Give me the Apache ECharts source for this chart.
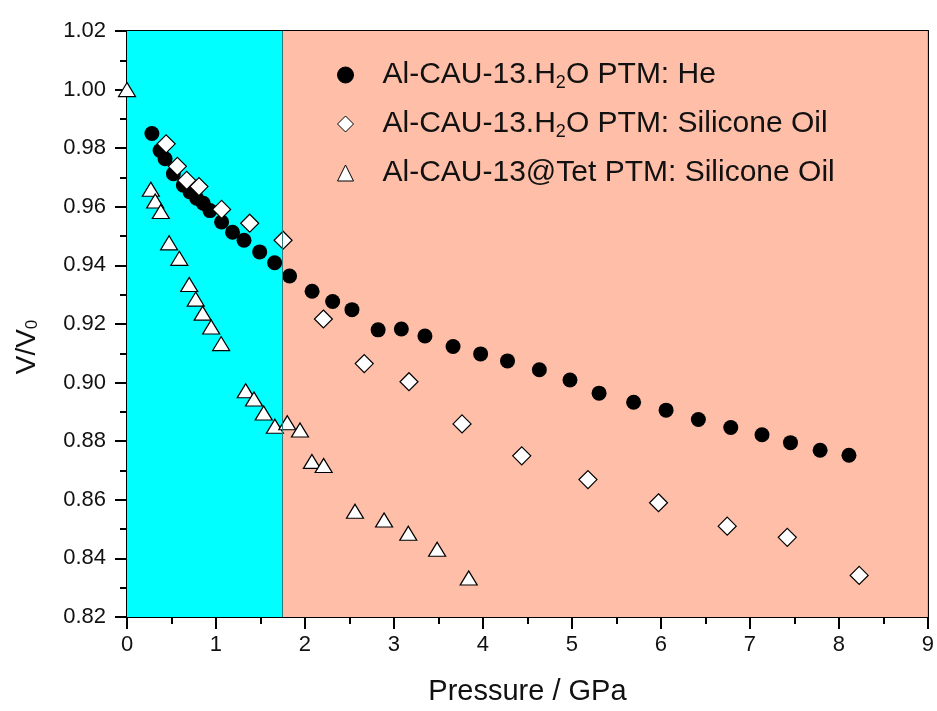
<!DOCTYPE html>
<html>
<head>
<meta charset="utf-8">
<script src="https://cdn.jsdelivr.net/npm/echarts@6/dist/echarts.min.js"></script>
<style>
html,body{margin:0;padding:0;background:#fff;overflow:hidden;}
#chart{width:937px;height:711px;}
</style>
</head>
<body>
<div id="chart"></div>
<script>
// Data: [pressure GPa, V/V0]
const heName = 'Al-CAU-13.H2O PTM: He';
const oilName = 'Al-CAU-13.H2O PTM: Silicone Oil';
const tetName = 'Al-CAU-13@Tet PTM: Silicone Oil';

const heP = [0.28,0.372,0.428,0.521,0.633,0.708,0.783,0.857,0.932,1.063,1.186,1.315,1.491,1.659,1.827,2.08,2.311,2.528,2.822,3.083,3.348,3.664,3.974,4.276,4.634,4.978,5.305,5.693,6.058,6.421,6.785,7.136,7.456,7.789,8.113];
const heV = [0.985,0.9792,0.9764,0.9713,0.9674,0.9651,0.9629,0.9612,0.9587,0.9548,0.9513,0.9486,0.9446,0.9409,0.9364,0.9312,0.9277,0.9249,0.918,0.9183,0.9159,0.9123,0.9098,0.9074,0.9044,0.9009,0.8964,0.8933,0.8906,0.8874,0.8847,0.8822,0.8795,0.8769,0.8752];

const oilP = [0.44,0.566,0.671,0.809,1.063,1.379,1.754,2.207,2.666,3.169,3.765,4.436,5.18,5.973,6.745,7.42,8.228];
const oilV = [0.9815,0.9738,0.969,0.9669,0.9591,0.9544,0.9486,0.9217,0.9065,0.9003,0.8859,0.875,0.8669,0.859,0.851,0.8472,0.8342];

const tetP = [0.0,0.268,0.317,0.38,0.473,0.588,0.699,0.772,0.85,0.946,1.058,1.334,1.427,1.536,1.662,1.801,1.944,2.078,2.21,2.562,2.889,3.161,3.485,3.84];
const tetV = [1.0,0.966,0.962,0.9584,0.9477,0.9424,0.9335,0.9285,0.9237,0.919,0.9133,0.8972,0.8944,0.8896,0.8851,0.8863,0.8838,0.8731,0.8717,0.8561,0.8531,0.8486,0.8431,0.8333];

const regionBounds = [0, 1.75, 9];
const xTicks = {min: 0, max: 9, interval: 1};
const yTicks = {min: 0.82, max: 1.02, interval: 0.02};

const zip = (a, b) => a.map((v, i) => [v, b[i]]);

const FONT = '"Liberation Sans", Arial, sans-serif';
const TXT = '#111';

const chart = echarts.init(document.getElementById('chart'), null, {renderer: 'canvas', width: 937, height: 711});

const axisLineStyle = {color: '#000', width: 2};
const tick = (inside) => ({show: true, inside: inside, length: 12, lineStyle: {color: '#000', width: 2}});
const minor = {show: true, splitNumber: 2, length: 7, lineStyle: {color: '#000', width: 2}};

chart.setOption({
  animation: false,
  backgroundColor: '#ffffff',
  grid: {left: 127, right: 6, top: 31, bottom: 88, containLabel: false},
  xAxis: [
    {
      type: 'value', position: 'bottom', min: xTicks.min, max: xTicks.max, interval: xTicks.interval,
      axisLine: {show: true, onZero: false, lineStyle: axisLineStyle},
      axisTick: tick(false), minorTick: minor,
      splitLine: {show: false},
      axisLabel: {show: true, margin: 17, fontSize: 22, color: TXT, fontFamily: FONT},
      name: 'Pressure / GPa', nameLocation: 'middle', nameGap: 60,
      nameTextStyle: {fontSize: 29, color: TXT, fontFamily: FONT}
    },
    {
      type: 'value', position: 'top', min: xTicks.min, max: xTicks.max, interval: xTicks.interval,
      axisLine: {show: true, onZero: false, lineStyle: axisLineStyle},
      axisTick: tick(true), minorTick: minor,
      splitLine: {show: false},
      axisLabel: {show: false}
    }
  ],
  yAxis: [
    {
      type: 'value', position: 'left', min: yTicks.min, max: yTicks.max, interval: yTicks.interval,
      axisLine: {show: true, onZero: false, lineStyle: axisLineStyle},
      axisTick: tick(false), minorTick: minor,
      splitLine: {show: false},
      axisLabel: {show: true, margin: 21, fontSize: 22, color: TXT, fontFamily: FONT,
        formatter: v => v.toFixed(2)},
      name: 'V/V{s|0}', nameLocation: 'middle', nameGap: 86, nameRotate: 90,
      nameTextStyle: {fontSize: 28, color: TXT, fontFamily: FONT, padding: [0, 46, 0, 0],
        rich: {s: {fontSize: 17, color: TXT, fontFamily: FONT, verticalAlign: 'bottom', lineHeight: 17, padding: [12, 0, 0, 0]}}}
    },
    {
      type: 'value', position: 'right', min: yTicks.min, max: yTicks.max, interval: yTicks.interval,
      axisLine: {show: true, onZero: false, lineStyle: axisLineStyle},
      axisTick: tick(true), minorTick: minor,
      splitLine: {show: false},
      axisLabel: {show: false}
    }
  ],
  legend: {
    orient: 'vertical', left: 337, top: 58, itemGap: 15, padding: 0,
    itemWidth: 16, itemHeight: 16,
    data: [
      {name: heName, icon: 'circle', itemStyle: {color: '#000', borderColor: '#000', borderWidth: 1}},
      {name: oilName, icon: 'diamond', itemStyle: {color: '#fff', borderColor: '#000', borderWidth: 1}},
      {name: tetName, icon: 'triangle', itemStyle: {color: '#fff', borderColor: '#000', borderWidth: 1}}
    ],
    formatter: n => n.replace('H2O', 'H{sub|2}O'),
    textStyle: {fontSize: 30, color: TXT, fontFamily: FONT, lineHeight: 34, padding: [0, 0, 0, 24],
      rich: {sub: {fontSize: 18, color: TXT, fontFamily: FONT, verticalAlign: 'bottom', lineHeight: 18, padding: [14, 0, 0, 0]}}}
  },
  series: [
    {
      name: 'bg', type: 'scatter', data: [], silent: true, xAxisIndex: 0, yAxisIndex: 0,
      markArea: {
        silent: true,
        data: [
          [{xAxis: regionBounds[0], itemStyle: {color: '#00FFFF'}}, {xAxis: regionBounds[1]}],
          [{xAxis: regionBounds[1], itemStyle: {color: '#FFBEA7'}}, {xAxis: regionBounds[2]}]
        ]
      },
      markLine: {
        silent: true, symbol: 'none', label: {show: false},
        lineStyle: {color: '#2a7d7d', width: 1, type: 'solid'},
        data: [{xAxis: regionBounds[1]}]
      }
    },
    {
      name: tetName, type: 'scatter', data: zip(tetP, tetV), symbol: 'triangle', symbolSize: [17, 14],
      itemStyle: {color: '#fff', borderColor: '#000', borderWidth: 1.2, opacity: 1}, z: 3, clip: true
    },
    {
      name: oilName, type: 'scatter', data: zip(oilP, oilV), symbol: 'diamond', symbolSize: 18,
      itemStyle: {color: '#fff', borderColor: '#000', borderWidth: 1.2, opacity: 1}, z: 4, clip: true
    },
    {
      name: heName, type: 'scatter', data: zip(heP, heV), symbol: 'circle', symbolSize: 15,
      itemStyle: {color: '#000', borderColor: '#000', borderWidth: 0, opacity: 1}, z: 2, clip: true
    }
  ]
});
</script>
</body>
</html>
